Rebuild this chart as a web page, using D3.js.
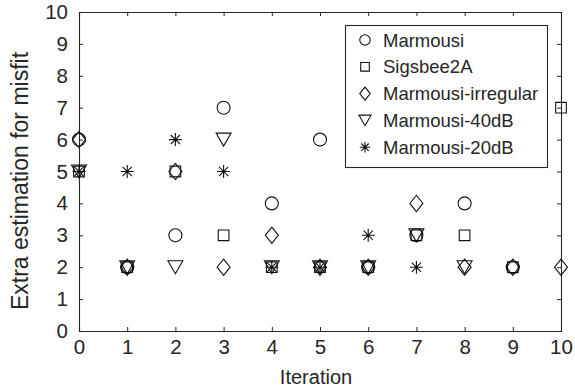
<!DOCTYPE html>
<html>
<head>
<meta charset="utf-8">
<script src="https://cdn.jsdelivr.net/npm/d3@7"></script>
<style>
  html, body { margin: 0; padding: 0; background: #fff; }
  text { font-family: "Liberation Sans", Arial, Helvetica, sans-serif; fill: #262626; }
</style>
</head>
<body>
<svg id="chart" width="575" height="389"></svg>
<script>
// Extra estimation for misfit per iteration, one array per model
const marmousi   = [6, 2, 3, 7, 4, 6, 2, 3, 4, 2];
const sigsbee2A  = [5, 2, 5, 3, 2, 2, 2, 3, 3, 2, 7];
const irregular  = [6, 2, 5, 2, 3, 2, 2, 4, 2, 2, 2];
const db40       = [5, 2, 2, 6, 2, 2, 2, 3, 2];
const db20       = [5, 5, 6, 5, 2, 2, 3, 2];

const seriesNames = ["Marmousi", "Sigsbee2A", "Marmousi-irregular", "Marmousi-40dB", "Marmousi-20dB"];
const seriesValues = [marmousi, sigsbee2A, irregular, db40, db20];
const markerKinds = ["circle", "square", "diamond", "triangleDown", "asterisk"];

const xTicks = d3.range(0, 11);
const yTicks = d3.range(0, 11);

const W = 575, H = 389;
const margin = { top: 12, right: 14, bottom: 58, left: 79 };
const svg = d3.select("#chart");

const x = d3.scaleLinear().domain([0, 10]).range([margin.left, W - margin.right]);
const y = d3.scaleLinear().domain([0, 10]).range([H - margin.bottom, margin.top]);

const ink = "#262626";

// Marker outline paths, centred on the origin; s = overall size in px
function markerPath(kind, s) {
  const p = d3.path();
  const h = s / 2;
  switch (kind) {
    case "circle":
      p.moveTo(h, 0); p.arc(0, 0, h, 0, 2 * Math.PI); break;
    case "square": {
      const a = h * 0.82;
      p.rect(-a, -a, 2 * a, 2 * a); break;
    }
    case "diamond": {
      const hx = h * 1.0, hy = h * 1.25;
      p.moveTo(0, -hy); p.lineTo(hx, 0); p.lineTo(0, hy); p.lineTo(-hx, 0); p.closePath(); break;
    }
    case "triangleDown": {
      const hx = h * 1.15, hy = h;
      p.moveTo(-hx, -hy); p.lineTo(hx, -hy); p.lineTo(0, hy); p.closePath(); break;
    }
    case "asterisk": {
      const r = h;
      const d = r * Math.SQRT1_2;
      p.moveTo(0, -r); p.lineTo(0, r);
      p.moveTo(-r, 0); p.lineTo(r, 0);
      p.moveTo(-d, -d); p.lineTo(d, d);
      p.moveTo(-d, d); p.lineTo(d, -d);
      break;
    }
  }
  return p.toString();
}

// Axes box with inward ticks on all four sides
const xAxisB = d3.axisBottom(x).tickValues(xTicks).tickSize(-4).tickPadding(8).tickFormat(d3.format("d"));
const xAxisT = d3.axisTop(x).tickValues(xTicks).tickSize(-4).tickFormat("");
const yAxisL = d3.axisLeft(y).tickValues(yTicks).tickSize(-4).tickPadding(11).tickFormat(d3.format("d"));
const yAxisR = d3.axisRight(y).tickValues(yTicks).tickSize(-4).tickFormat("");

function styleAxis(g) {
  g.select(".domain").attr("stroke", ink).attr("stroke-width", 1.1);
  g.selectAll(".tick line").attr("stroke", ink).attr("stroke-width", 1);
  g.selectAll(".tick text").style("font-size", "20.5px").attr("fill", ink);
}

svg.append("g").attr("transform", `translate(0,${y(0)})`).call(xAxisB).call(styleAxis);
svg.append("g").attr("transform", `translate(0,${y(10)})`).call(xAxisT).call(styleAxis);
svg.append("g").attr("transform", `translate(${x(0)},0)`).call(yAxisL).call(styleAxis);
svg.append("g").attr("transform", `translate(${x(10)},0)`).call(yAxisR).call(styleAxis);

// Axis titles
svg.append("text")
  .attr("x", (x(0) + x(10)) / 2 - 4)
  .attr("y", 384)
  .attr("text-anchor", "middle")
  .style("font-size", "20px")
  .text("Iteration");

svg.append("text")
  .attr("transform", `translate(28,181) rotate(-90)`)
  .attr("text-anchor", "middle")
  .style("font-size", "23px")
  .text("Extra estimation for misfit");

// Data markers
const plot = svg.append("g");
seriesValues.forEach((vals, si) => {
  plot.append("g")
    .selectAll("path")
    .data(vals)
    .join("path")
    .attr("transform", (d, i) => `translate(${x(i)},${y(d)})`)
    .attr("d", markerPath(markerKinds[si], 13))
    .attr("fill", "none")
    .attr("stroke", "#111")
    .attr("stroke-width", 1.1);
});

// Legend
const lg = svg.append("g");
lg.append("rect")
  .attr("x", 345.5).attr("y", 25.5)
  .attr("width", 202).attr("height", 142)
  .attr("fill", "#fff").attr("stroke", ink).attr("stroke-width", 1.1);

seriesNames.forEach((name, i) => {
  const cy = 40 + i * 26.8;
  lg.append("path")
    .attr("transform", `translate(365,${cy})`)
    .attr("d", markerPath(markerKinds[i], 10.5))
    .attr("fill", "none")
    .attr("stroke", "#111")
    .attr("stroke-width", 1.1);
  lg.append("text")
    .attr("x", 383)
    .attr("y", cy)
    .attr("dy", "0.36em")
    .style("font-size", "18.5px")
    .text(name);
});
</script>
</body>
</html>
